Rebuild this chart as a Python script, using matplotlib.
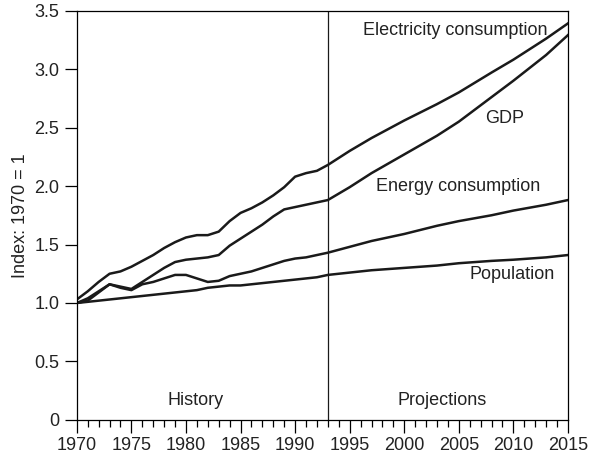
import numpy as np
import matplotlib.pyplot as plt
from matplotlib.ticker import MultipleLocator

plt.rcParams['font.family'] = ['Liberation Sans', 'DejaVu Sans']

# 履歴データ (1970-1993) と予測 (1993-2015)
years_hist = [1970, 1971, 1972, 1973, 1974, 1975, 1976, 1977, 1978, 1979, 1980, 1981,
              1982, 1983, 1984, 1985, 1986, 1987, 1988, 1989, 1990, 1991, 1992, 1993]
years_proj = [1995, 1997, 2000, 2003, 2005, 2008, 2010, 2013, 2015]

elec_hist = [1.03, 1.10, 1.18, 1.25, 1.27, 1.31, 1.36, 1.41, 1.47, 1.52, 1.56, 1.58,
             1.58, 1.61, 1.70, 1.77, 1.81, 1.86, 1.92, 1.99, 2.08, 2.11, 2.13, 2.18]
elec_proj = [2.30, 2.41, 2.56, 2.70, 2.80, 2.97, 3.08, 3.26, 3.39]

gdp_hist = [1.00, 1.02, 1.09, 1.16, 1.14, 1.12, 1.18, 1.24, 1.30, 1.35, 1.37, 1.38,
            1.39, 1.41, 1.49, 1.55, 1.61, 1.67, 1.74, 1.80, 1.82, 1.84, 1.86, 1.88]
gdp_proj = [1.99, 2.11, 2.27, 2.43, 2.55, 2.76, 2.90, 3.12, 3.29]

energy_hist = [1.00, 1.04, 1.10, 1.16, 1.13, 1.11, 1.16, 1.18, 1.21, 1.24, 1.24, 1.21,
               1.18, 1.19, 1.23, 1.25, 1.27, 1.30, 1.33, 1.36, 1.38, 1.39, 1.41, 1.43]
energy_proj = [1.48, 1.53, 1.59, 1.66, 1.70, 1.75, 1.79, 1.84, 1.88]

pop_hist = [1.00, 1.01, 1.02, 1.03, 1.04, 1.05, 1.06, 1.07, 1.08, 1.09, 1.10, 1.11,
            1.13, 1.14, 1.15, 1.15, 1.16, 1.17, 1.18, 1.19, 1.20, 1.21, 1.22, 1.24]
pop_proj = [1.26, 1.28, 1.30, 1.32, 1.34, 1.36, 1.37, 1.39, 1.41]

years = years_hist + years_proj

fig, ax = plt.subplots(figsize=(5.91, 4.58), dpi=100)
fig.subplots_adjust(left=0.13, right=0.961, top=0.977, bottom=0.083)

for vals in [elec_hist + elec_proj, gdp_hist + gdp_proj,
             energy_hist + energy_proj, pop_hist + pop_proj]:
    ax.plot(years, vals, color='#1a1a1a', lw=1.8, solid_joinstyle='round')

ax.axvline(1993, color='#1a1a1a', lw=0.9)

fs = 13
ax.text(2004.7, 3.33, 'Electricity consumption', ha='center', va='center', fontsize=fs, color='#222222')
ax.text(2009.2, 2.58, 'GDP', ha='center', va='center', fontsize=fs, color='#222222')
ax.text(2004.9, 2.00, 'Energy consumption', ha='center', va='center', fontsize=fs, color='#222222')
ax.text(2009.9, 1.24, 'Population', ha='center', va='center', fontsize=fs, color='#222222')
ax.text(1980.9, 0.17, 'History', ha='center', va='center', fontsize=fs, color='#222222')
ax.text(2003.5, 0.17, 'Projections', ha='center', va='center', fontsize=fs, color='#222222')

ax.set_xlim(1970, 2015)
ax.set_ylim(0, 3.5)
ax.xaxis.set_major_locator(MultipleLocator(5))
ax.xaxis.set_minor_locator(MultipleLocator(1))
ax.set_yticks([0, 0.5, 1.0, 1.5, 2.0, 2.5, 3.0, 3.5])
ax.set_yticklabels(['0', '0.5', '1.0', '1.5', '2.0', '2.5', '3.0', '3.5'])
ax.tick_params(axis='both', which='major', length=9, width=0.9, labelsize=fs,
               direction='out', labelcolor='#222222')
ax.tick_params(axis='x', which='minor', length=5, width=0.9)
ax.set_ylabel('Index: 1970 = 1', fontsize=fs, color='#222222', labelpad=4)
for s in ax.spines.values():
    s.set_linewidth(0.9)

plt.savefig('out.png')
